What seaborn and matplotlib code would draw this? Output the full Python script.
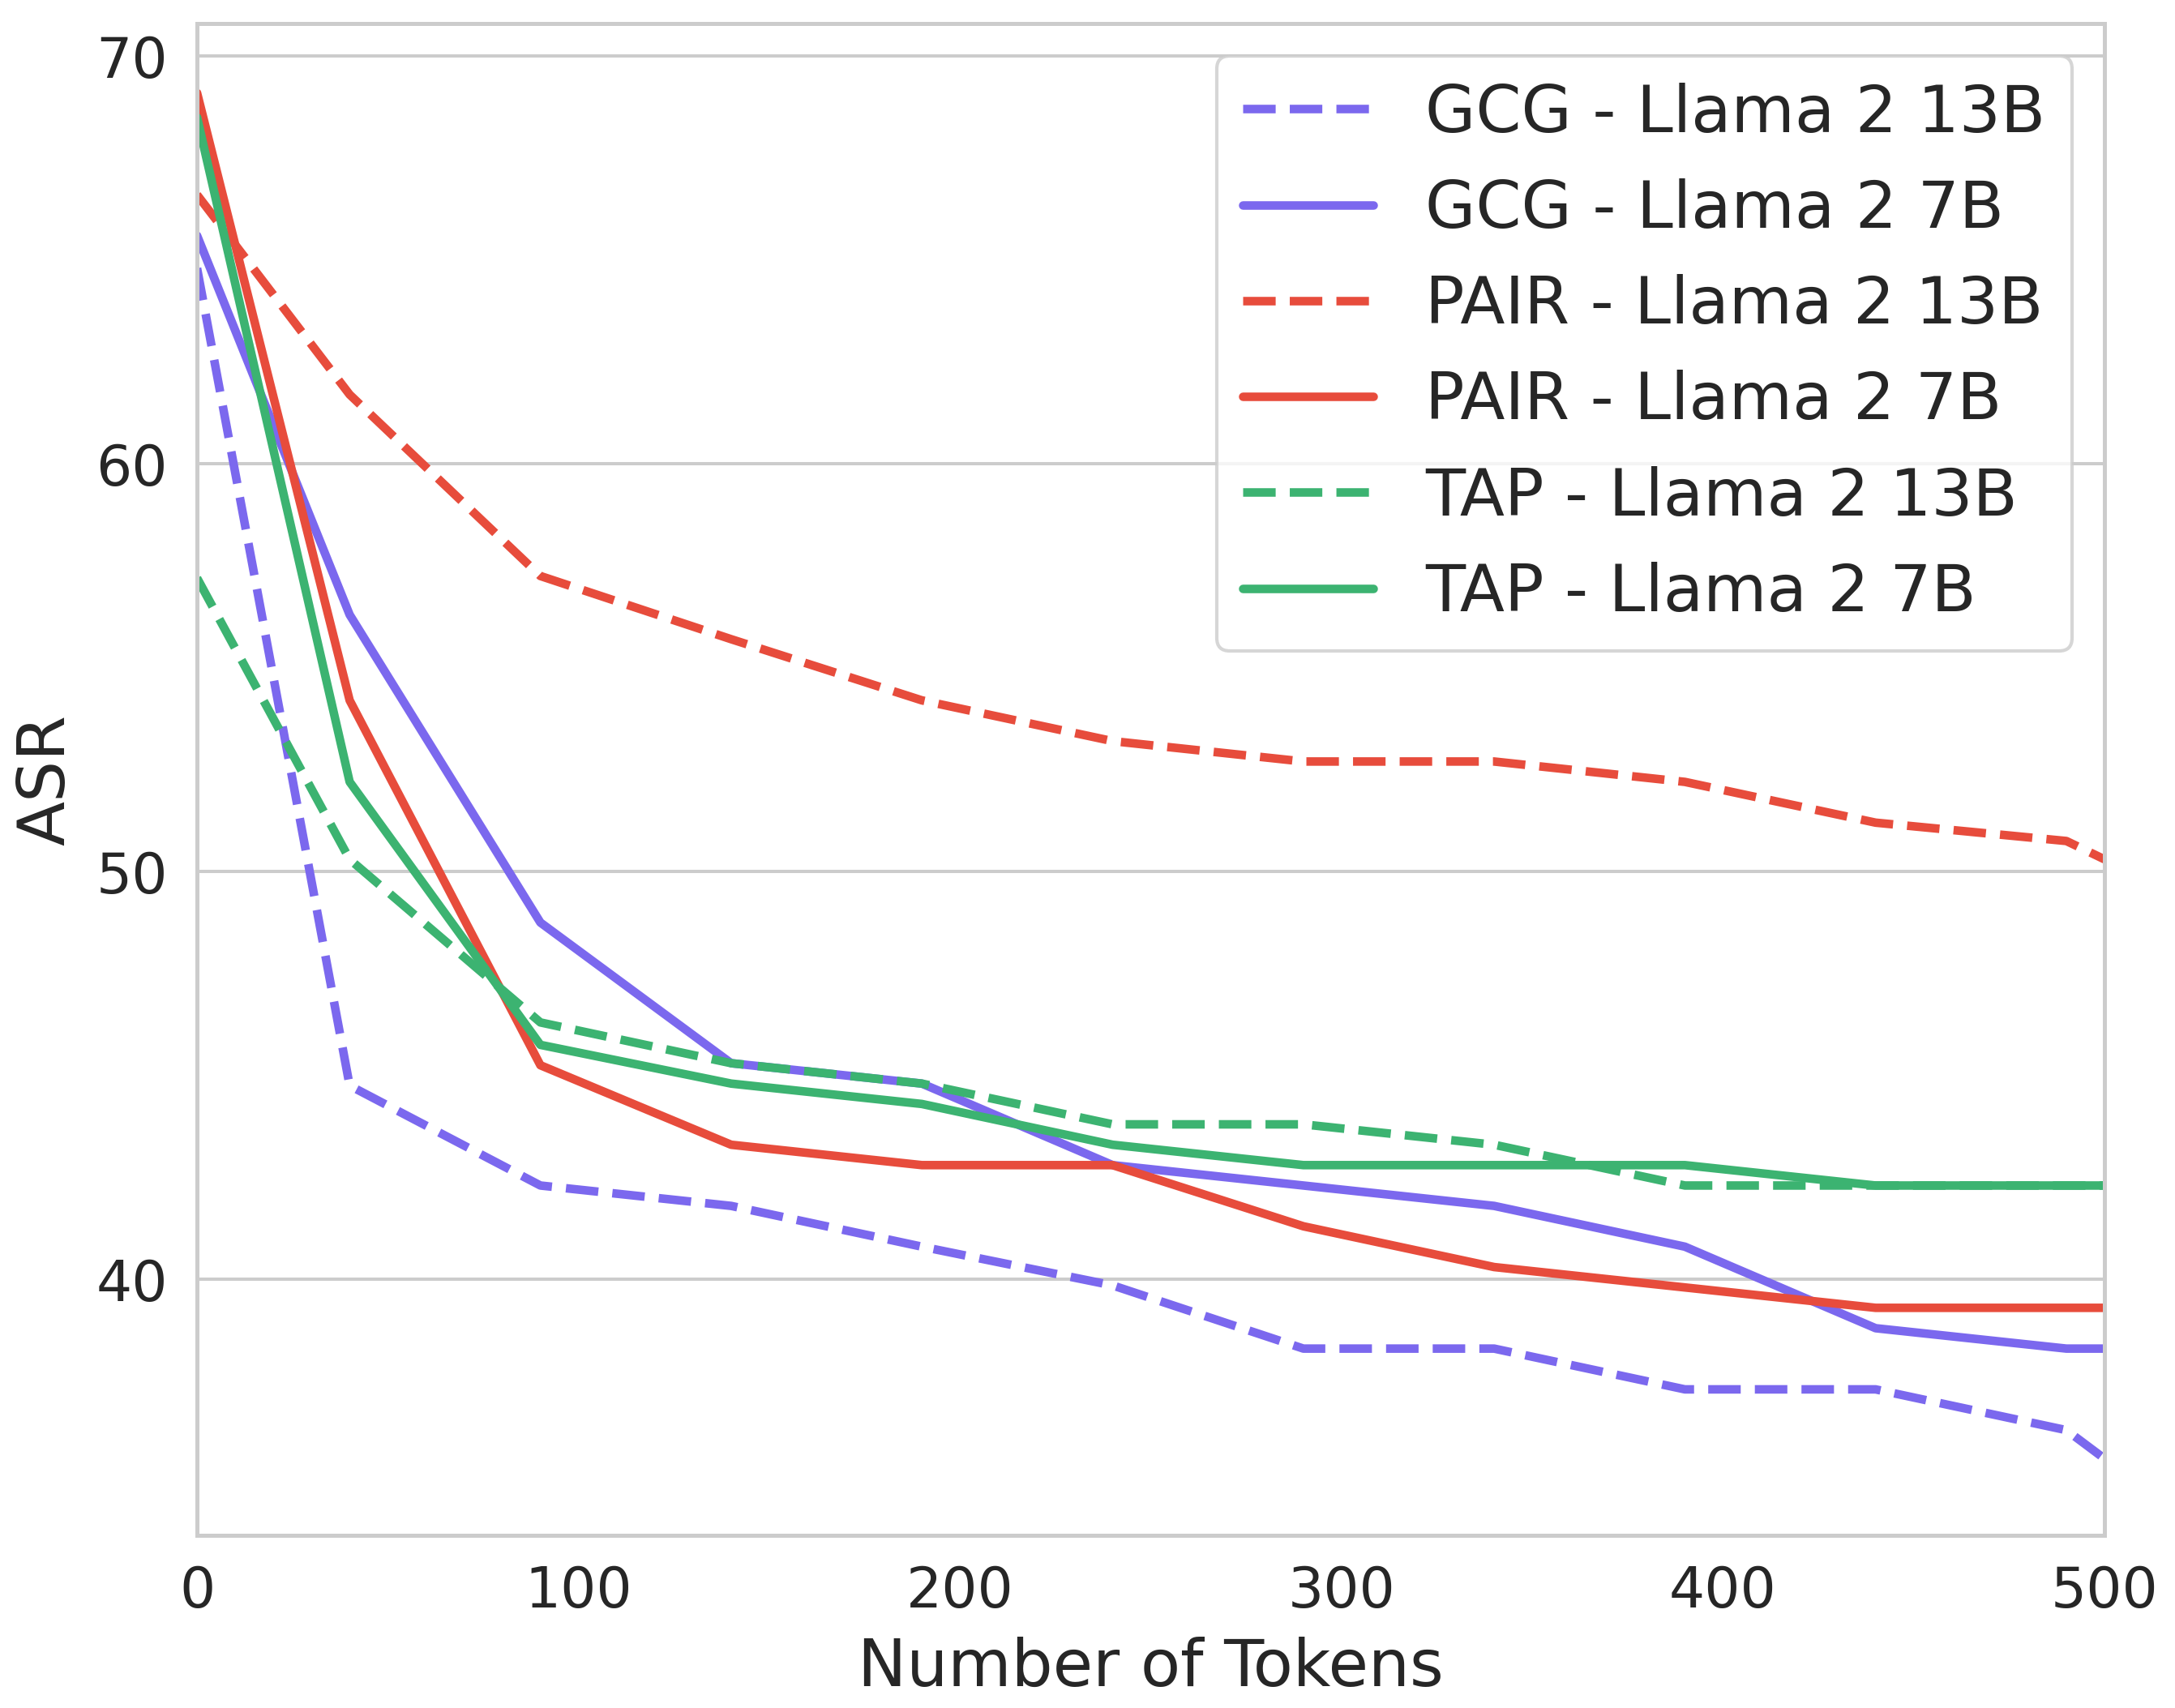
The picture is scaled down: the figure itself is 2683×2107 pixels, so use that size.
import numpy as np
import pandas as pd
import matplotlib
matplotlib.use("Agg")
import matplotlib.pyplot as plt
import seaborn as sns

tokens = [0, 40, 90, 140, 190, 240, 290, 340, 390, 440, 490, 500]

gcg_13b = [64.8, 44.75, 42.3, 41.8, 40.8, 39.85, 38.3, 38.3, 37.3, 37.3, 36.3, 35.6]
gcg_7b = [65.6, 56.3, 48.75, 45.3, 44.8, 42.8, 42.3, 41.8, 40.8, 38.8, 38.3, 38.3]
pair_13b = [66.6, 61.7, 57.25, 55.7, 54.2, 53.2, 52.7, 52.7, 52.2, 51.2, 50.75, 50.3]
pair_7b = [69.1, 54.2, 45.25, 43.3, 42.8, 42.8, 41.3, 40.3, 39.8, 39.3, 39.3, 39.3]
tap_13b = [57.2, 50.3, 46.3, 45.3, 44.8, 43.8, 43.8, 43.3, 42.3, 42.3, 42.3, 42.3]
tap_7b = [68.5, 52.2, 45.75, 44.8, 44.3, 43.3, 42.8, 42.8, 42.8, 42.3, 42.3, 42.3]

labels = ["GCG - Llama 2 13B", "GCG - Llama 2 7B",
          "PAIR - Llama 2 13B", "PAIR - Llama 2 7B",
          "TAP - Llama 2 13B", "TAP - Llama 2 7B"]
series = [gcg_13b, gcg_7b, pair_13b, pair_7b, tap_13b, tap_7b]

purple = "#7B68EE"
red = "#E74C3C"
green = "#3CB371"
palette = dict(zip(labels, [purple, purple, red, red, green, green]))
dash = (3.8, 1.65)
dashes = dict(zip(labels, [dash, "", dash, "", dash, ""]))

rows = []
for lab, vals in zip(labels, series):
    for t, v in zip(tokens, vals):
        rows.append({"Number of Tokens": t, "ASR": v, "series": lab})
df = pd.DataFrame(rows)

sns.set_theme(style="whitegrid")
plt.rcParams['font.family'] = ['DejaVu Sans']
LW = 3.8
plt.rcParams['lines.linewidth'] = LW

fig = plt.figure(figsize=(13.415, 10.535), dpi=200)
ax = fig.add_axes([0.0906, 0.1011, 0.8770, 0.8851])

sns.lineplot(data=df, x="Number of Tokens", y="ASR", hue="series", style="series",
             palette=palette, dashes=dashes, hue_order=labels, style_order=labels,
             linewidth=LW, ax=ax)
for ln in ax.get_lines():
    ln.set_linewidth(LW)

ax.set_xlim(0, 500)
ax.set_ylim(33.72, 70.8)
ax.set_xticks([0, 100, 200, 300, 400, 500])
ax.set_yticks([40, 50, 60, 70])
ax.grid(axis="x", visible=False)
ax.grid(axis="y", color="#cccccc", linewidth=1.45)
for s in ax.spines.values():
    s.set_color("#cccccc")
    s.set_linewidth(1.8)
ax.tick_params(axis="both", labelsize=25, pad=13, length=0)
ax.set_xlabel("Number of Tokens", fontsize=29, labelpad=8)
ax.set_ylabel("ASR", fontsize=29, labelpad=8)

leg = ax.legend(loc="upper right", fontsize=29, labelspacing=0.5,
                handlelength=2.0, frameon=True)
leg.set_title(None)
for h in leg.get_lines():
    h.set_linewidth(LW)
leg.get_frame().set_edgecolor("#cccccc")
leg.get_frame().set_linewidth(1.5)

fig.savefig("out.png", dpi=200)
